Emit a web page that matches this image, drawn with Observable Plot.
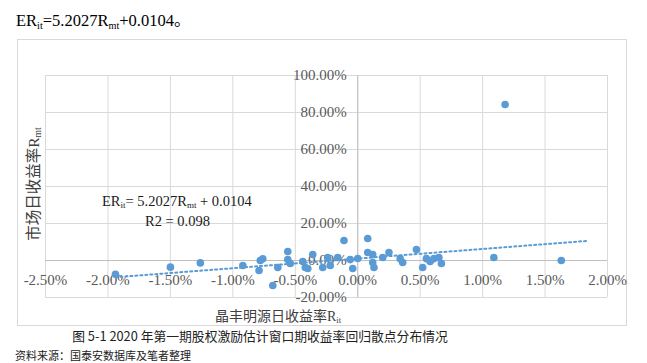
<!DOCTYPE html>
<html>
<head>
<meta charset="utf-8">
<script src="https://cdn.jsdelivr.net/npm/d3@7"></script>
<script src="https://cdn.jsdelivr.net/npm/@observablehq/plot@0.6"></script>
<style>
  html, body { margin: 0; padding: 0; background: #fff; }
  #wrap { position: relative; width: 647px; height: 363px; overflow: hidden; font-family: "Liberation Serif", "Noto Sans CJK SC", serif; }
  .abs { position: absolute; white-space: nowrap; color: #000; }
  sub { font-size: 0.62em; vertical-align: -0.25em; line-height: 0; }
  #chart svg text { font-family: "Liberation Serif", serif !important; }
</style>
</head>
<body>
<div id="wrap">
  <div class="abs" style="left:16px; top:7px; font-size:16.5px;">ER<sub>it</sub>=5.2027R<sub>mt</sub>+0.0104。</div>
  <div class="abs" style="left:17px; top:39px; width:610px; height:287px; border:1px solid #d9d9d9; box-sizing:border-box;"></div>
  <div id="chart" class="abs" style="left:0; top:0;"></div>
  <div class="abs" style="left:102px; top:193px; font-size:14.5px; color:#1a1a1a;">ER<sub>it</sub>= 5.2027R<sub>mt</sub> + 0.0104</div>
  <div class="abs" style="left:145px; top:213px; font-size:14.5px; color:#1a1a1a;">R2 = 0.098</div>
  <div class="abs" style="left:32px; top:184px; font-size:15.5px; color:#404040; transform: translate(-50%,-50%) rotate(-90deg);">市场日收益率R<sub>mt</sub></div>
  <div class="abs" style="left:278px; top:315px; font-size:14px; color:#404040; transform: translate(-50%,-50%);">晶丰明源日收益率R<sub>it</sub></div>
  <div class="abs" style="left:260px; top:335px; font-size:12.8px; font-family:'Noto Sans CJK SC', sans-serif; color:#222; transform: translate(-50%,-50%);">图 5-1 2020 年第一期股权激励估计窗口期收益率回归散点分布情况</div>
  <div class="abs" style="left:15px; top:349px; font-size:11px; line-height:12px; font-family:'Noto Sans CJK SC', sans-serif; color:#222;">资料来源：国泰安数据库及笔者整理</div>
</div>
<script>
// Stock daily return (x, %) and market daily return (y, %)
const stockReturn = [
  -1.94, -1.50, -1.26, -0.92, -0.78, -0.76, -0.79, -0.68, -0.64, -0.56,
  -0.56, -0.54, -0.44, -0.42, -0.40, -0.36, -0.28, -0.24, -0.22, -0.16,
  -0.11, -0.06, -0.04, 0.00, 0.08, 0.08, 0.12, 0.12, 0.13, 0.20,
  0.25, 0.34, 0.36, 0.47, 0.52, 0.55, 0.58, 0.61, 0.65, 0.67,
  1.09, 1.18, 1.63
];
const marketReturn = [
  -7.4, -3.6, -1.3, -2.7, 0.0, 0.9, -5.4, -13.5, -3.8, 4.9,
  0.5, -1.6, -0.5, -3.8, -4.3, 3.2, -3.8, 1.6, -2.7, 1.6,
  10.8, 0.5, -4.3, 1.1, 11.9, 4.3, 3.2, -1.1, -3.8, 1.6,
  4.3, 1.0, -1.1, 5.9, -3.8, 1.0, -0.5, 1.0, 1.6, -1.6,
  1.6, 84.3, 0.0
];
// Linear trend: ER = slope * R + intercept (both in fraction units)
const trendSlope = 5.2027;
const trendIntercept = 0.0104;
const trendRange = [-1.94, 1.84];

const xTicks = [-2.5, -2.0, -1.5, -1.0, -0.5, 0.0, 0.5, 1.0, 1.5, 2.0];
const yTicks = [-20, 0, 20, 40, 60, 80, 100];

const points = stockReturn.map((x, i) => ({x, y: marketReturn[i]}));
const trend = trendRange.map(x => ({x, y: (trendSlope * x / 100 + trendIntercept) * 100}));
const fmt = d => d.toFixed(2) + "%";

const chart = Plot.plot({
  width: 647,
  height: 363,
  marginLeft: 45,
  marginRight: 40,
  marginTop: 75,
  marginBottom: 66,
  style: {fontFamily: "'Liberation Serif', serif", background: "transparent"},
  x: {domain: [-2.5, 2.0], axis: null},
  y: {domain: [-20, 100], axis: null},
  marks: [
    Plot.ruleX(xTicks, {stroke: "#d9d9d9", strokeWidth: 1}),
    Plot.ruleY(yTicks, {stroke: "#d9d9d9", strokeWidth: 1}),
    Plot.ruleX([0], {stroke: "#bfbfbf", strokeWidth: 1}),
    Plot.ruleY([0], {stroke: "#bfbfbf", strokeWidth: 1}),
    Plot.text(xTicks, {x: d => d, y: 0, dy: 20, text: fmt, fontSize: 15, fill: "#595959"}),
    Plot.text(yTicks, {x: 0, y: d => d, dx: -11, textAnchor: "end", text: fmt, fontSize: 15, fill: "#595959"}),
    Plot.line(trend, {x: "x", y: "y", stroke: "#5B9BD5", strokeWidth: 2, strokeDasharray: "2 3"}),
    Plot.dot(points, {x: "x", y: "y", r: 3.8, fill: "#5B9BD5", stroke: "none"})
  ]
});
document.getElementById("chart").appendChild(chart);
</script>
</body>
</html>
